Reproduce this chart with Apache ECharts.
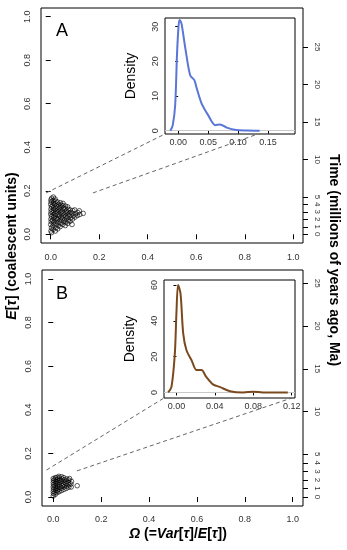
<!DOCTYPE html>
<html><head><meta charset="utf-8">
<script src="https://cdn.jsdelivr.net/npm/echarts@6/dist/echarts.min.js"></script>
<style>html,body{margin:0;padding:0;background:#fff}#c{width:347px;height:550px}</style>
</head><body><div id="c"></div>
<script>
const FONT = '"Liberation Sans", Arial, Helvetica, sans-serif';

// tick values
const mainTicks = [0, 0.2, 0.4, 0.6, 0.8, 1.0];
const timeTicks = [0, 1, 2, 3, 4, 5, 10, 15, 20, 25];
const insetATicksX = [0, 0.05, 0.10, 0.15];
const insetATicksY = [0, 10, 20, 30];
const insetBTicksX = [0, 0.04, 0.08, 0.12];
const insetBTicksY = [0, 20, 40, 60];

// Panel A scatter: [Omega, E[tau]]
const scatterA = [
[0.001,0.015],[0.003,0.030],[0.000,0.045],[0.002,0.058],[0.001,0.070],[0.003,0.082],[0.000,0.093],[0.002,0.104],[0.001,0.116],[0.003,0.127],[0.000,0.138],[0.002,0.149],[0.001,0.158],[0.004,0.166],
[0.004,0.008],[0.010,0.022],[0.009,0.038],[0.011,0.052],[0.008,0.064],[0.012,0.076],[0.010,0.088],[0.009,0.099],[0.011,0.110],[0.012,0.121],[0.009,0.132],[0.011,0.143],[0.010,0.155],[0.011,0.171],
[0.019,0.015],[0.021,0.030],[0.021,0.046],[0.018,0.060],[0.022,0.072],[0.020,0.084],[0.019,0.096],[0.021,0.107],[0.020,0.118],[0.022,0.130],[0.019,0.141],[0.021,0.152],[0.018,0.162],
[0.029,0.025],[0.031,0.040],[0.030,0.055],[0.028,0.068],[0.032,0.079],[0.030,0.090],[0.029,0.102],[0.031,0.113],[0.030,0.125],[0.032,0.137],[0.029,0.148],
[0.039,0.035],[0.041,0.050],[0.040,0.064],[0.042,0.077],[0.038,0.088],[0.041,0.100],[0.040,0.111],[0.039,0.123],[0.042,0.134],[0.040,0.145],
[0.050,0.045],[0.052,0.059],[0.049,0.072],[0.051,0.085],[0.050,0.097],[0.048,0.108],[0.052,0.120],[0.050,0.132],[0.051,0.142],
[0.060,0.040],[0.062,0.055],[0.059,0.068],[0.061,0.082],[0.060,0.094],[0.063,0.106],[0.060,0.118],[0.061,0.130],
[0.070,0.050],[0.072,0.063],[0.069,0.077],[0.071,0.090],[0.070,0.102],[0.072,0.115],[0.070,0.126],
[0.080,0.060],[0.082,0.074],[0.079,0.087],[0.081,0.100],[0.080,0.112],
[0.088,0.045],[0.090,0.070],[0.092,0.084],[0.089,0.097],[0.091,0.109],
[0.100,0.079],[0.102,0.093],[0.099,0.112],
[0.110,0.086],[0.112,0.100],
[0.120,0.091],[0.118,0.108],
[0.134,0.096]
];

// Panel B scatter: [Omega, E[tau]]
const scatterB = [
[0.000,0.005],[0.001,0.016],[0.000,0.026],[0.001,0.036],[0.000,0.046],[0.001,0.056],[0.000,0.066],[0.001,0.076],[0.000,0.085],
[0.008,0.012],[0.007,0.022],[0.009,0.032],[0.008,0.042],[0.007,0.052],[0.009,0.062],[0.008,0.072],[0.007,0.081],[0.009,0.089],
[0.016,0.020],[0.017,0.030],[0.015,0.040],[0.017,0.050],[0.016,0.060],[0.015,0.070],[0.017,0.080],[0.016,0.090],
[0.025,0.025],[0.024,0.036],[0.026,0.047],[0.025,0.057],[0.024,0.067],[0.026,0.077],[0.025,0.087],[0.024,0.095],
[0.035,0.030],[0.034,0.041],[0.036,0.052],[0.035,0.063],[0.034,0.073],[0.036,0.083],[0.035,0.093],
[0.045,0.035],[0.046,0.047],[0.044,0.058],[0.045,0.069],[0.046,0.079],[0.044,0.089],
[0.055,0.040],[0.056,0.051],[0.054,0.062],[0.055,0.073],[0.056,0.083],
[0.065,0.045],[0.066,0.056],[0.064,0.067],[0.065,0.078],
[0.075,0.046],[0.074,0.060],[0.076,0.072],[0.068,0.085],
[0.100,0.052]
];

// Inset densities
const densAx = [-0.013,-0.009,-0.005,-0.002,0.000,0.002,0.004,0.006,0.012,0.020,0.027,0.031,0.039,0.050,0.062,0.070,0.081,0.097,0.115,0.136];
const densAy = [0,1.6,7.4,21.8,28.5,31.9,31.6,30.5,23.7,16.0,14.6,12.2,7.9,4.5,1.6,1.8,0.9,0.2,0.05,0];
const densBx = [-0.0087,-0.0052,-0.0017,0.0000,0.0017,0.0042,0.0070,0.0104,0.0157,0.0210,0.0260,0.0310,0.0380,0.0450,0.0557,0.0696,0.0800,0.0900,0.1160];
const densBy = [0,3.1,21.8,45,60,55.3,33,23.6,18,12.5,12.5,8.7,4.5,3.1,0.7,0,0.4,0,0];

// zoom connectors (main-plot corner -> inset corner), in data units
const connA = [[[-0.019,0.19],[-0.022,-0.95]],[[0.174,0.19],[0.133,-0.95]]];
const connB = [[[-0.028,0.124],[-0.013,-3.1]],[[0.099,0.12],[0.12,-3.1]]];

const labelColor = '#333';
function axis(o) {
  return {
    type: 'value', gridIndex: o.grid, min: o.min, max: o.max, position: o.pos,
    splitLine: {show: false}, axisLine: {show: false},
    axisTick: {show: true, inside: false, length: o.tickLen, customValues: o.ticks,
               lineStyle: {color: '#000', width: 1}},
    axisLabel: {show: true, customValues: o.ticks, formatter: o.fmt,
                fontSize: o.fs, color: labelColor, fontFamily: FONT, margin: o.margin,
                rotate: o.rot || 0},
    name: o.name || '', nameLocation: 'middle', nameGap: o.nameGap || 0, nameRotate: o.nameRot,
    nameTextStyle: {fontSize: 14, color: '#000', fontFamily: FONT}
  };
}
const f1 = v => v.toFixed(1), f2 = v => v.toFixed(2), f0 = v => String(v);

const chart = echarts.init(document.getElementById('c'), null, {renderer: 'canvas'});
const gridStyle = {show: true, borderColor: '#000', borderWidth: 1, backgroundColor: '#fff', containLabel: false, outerBoundsMode: 'none'};

const option = {
  animation: false,
  backgroundColor: '#fff',
  grid: [
    Object.assign({left: 41, top: 8, width: 262, height: 235}, gridStyle),
    Object.assign({left: 165, top: 18, width: 130, height: 116}, gridStyle),
    Object.assign({left: 42, top: 270, width: 261, height: 236}, gridStyle),
    Object.assign({left: 164, top: 280, width: 131, height: 118}, gridStyle)
  ],
  xAxis: [
    axis({grid: 0, min: -0.04, max: 1.04, pos: 'bottom', ticks: mainTicks, fmt: f1, fs: 9, margin: 10, tickLen: 5}),
    axis({grid: 1, min: -0.022, max: 0.195, pos: 'bottom', ticks: insetATicksX, fmt: f2, fs: 9, margin: 4, tickLen: 3}),
    axis({grid: 2, min: -0.047, max: 1.043, pos: 'bottom', ticks: mainTicks, fmt: f1, fs: 9, margin: 9, tickLen: 5}),
    axis({grid: 3, min: -0.013, max: 0.1235, pos: 'bottom', ticks: insetBTicksX, fmt: f2, fs: 9, margin: 4, tickLen: 3})
  ],
  yAxis: [
    axis({grid: 0, min: -0.04, max: 1.04, pos: 'left', ticks: mainTicks, fmt: f1, fs: 9, margin: 9, tickLen: 5, rot: 90}),
    axis({grid: 0, min: -1.16, max: 30.21, pos: 'right', ticks: timeTicks, fmt: f0, fs: 8, margin: 10, tickLen: 5, rot: -90}),
    axis({grid: 1, min: -0.95, max: 32.5, pos: 'left', ticks: insetATicksY, fmt: f0, fs: 9, margin: 5, tickLen: 3, rot: 90,
          name: 'Density', nameGap: 27, nameRot: 90}),
    axis({grid: 2, min: -0.041, max: 1.041, pos: 'left', ticks: mainTicks, fmt: f1, fs: 9, margin: 9, tickLen: 5, rot: 90}),
    axis({grid: 2, min: -1.05, max: 26.55, pos: 'right', ticks: timeTicks, fmt: f0, fs: 8, margin: 10, tickLen: 5, rot: -90}),
    axis({grid: 3, min: -3.1, max: 62.8, pos: 'left', ticks: insetBTicksY, fmt: f0, fs: 9, margin: 5, tickLen: 3, rot: 90,
          name: 'Density', nameGap: 27, nameRot: 90})
  ],
  series: [
    {type: 'scatter', xAxisIndex: 0, yAxisIndex: 0, data: scatterA, symbol: 'circle', symbolSize: 4.6,
     itemStyle: {color: 'rgba(255,255,255,0)', borderColor: '#000', borderWidth: 0.8}, silent: true},
    {type: 'line', xAxisIndex: 1, yAxisIndex: 2, data: densAx.map((x, i) => [x, densAy[i]]),
     smooth: 0.3, showSymbol: false, lineStyle: {color: '#5a76d6', width: 2},
     markLine: {silent: true, symbol: 'none', label: {show: false}, z: 1,
                lineStyle: {color: '#c8c8c8', type: 'solid', width: 1}, data: [{yAxis: 0}]}},
    {type: 'scatter', xAxisIndex: 2, yAxisIndex: 3, data: scatterB, symbol: 'circle', symbolSize: 4.6,
     itemStyle: {color: 'rgba(255,255,255,0)', borderColor: '#000', borderWidth: 0.8}, silent: true},
    {type: 'line', xAxisIndex: 3, yAxisIndex: 5, data: densBx.map((x, i) => [x, densBy[i]]),
     smooth: 0.3, showSymbol: false, lineStyle: {color: '#7a4a1e', width: 2},
     markLine: {silent: true, symbol: 'none', label: {show: false}, z: 1,
                lineStyle: {color: '#c8c8c8', type: 'solid', width: 1}, data: [{yAxis: 0}]}}
  ]
};
chart.setOption(option);

function conn(pairs, mainIdx, insetIdx) {
  return pairs.map(([a, b]) => {
    const p1 = chart.convertToPixel({xAxisIndex: mainIdx[0], yAxisIndex: mainIdx[1]}, a);
    const p2 = chart.convertToPixel({xAxisIndex: insetIdx[0], yAxisIndex: insetIdx[1]}, b);
    return {type: 'line', z: 50, silent: true,
            shape: {x1: p1[0], y1: p1[1], x2: p2[0], y2: p2[1]},
            style: {stroke: '#666', lineWidth: 1, lineDash: [4, 3]}};
  });
}
const bold = {fontWeight: 'bold', fontSize: 14, fontFamily: FONT, fill: '#000'};
const rich = {i: {fontStyle: 'italic', fontWeight: 'bold', fontSize: 14, fontFamily: FONT}};
const graphics = [].concat(
  conn(connA, [0, 0], [1, 2]),
  conn(connB, [2, 3], [3, 5]),
  [
    {type: 'text', x: 56, y: 31, z: 60, style: {text: 'A', fontSize: 18, fontFamily: FONT, fill: '#000', align: 'left', verticalAlign: 'middle'}},
    {type: 'text', x: 56, y: 294, z: 60, style: {text: 'B', fontSize: 18, fontFamily: FONT, fill: '#000', align: 'left', verticalAlign: 'middle'}},
    {type: 'text', x: 12, y: 246, rotation: Math.PI / 2, z: 60,
     style: Object.assign({text: '{i|E}[{i|τ}] (coalescent units)', rich: rich, align: 'center', verticalAlign: 'middle'}, bold)},
    {type: 'text', x: 334, y: 260, rotation: -Math.PI / 2, z: 60,
     style: Object.assign({text: 'Time (millions of years ago, Ma)', align: 'center', verticalAlign: 'middle'}, bold)},
    {type: 'text', x: 178, y: 534, z: 60,
     style: Object.assign({text: '{i|Ω} (={i|Var}[{i|τ}]/{i|E}[{i|τ}])', rich: rich, align: 'center', verticalAlign: 'middle'}, bold)}
  ]
);
chart.setOption({graphic: graphics});
</script></body></html>
